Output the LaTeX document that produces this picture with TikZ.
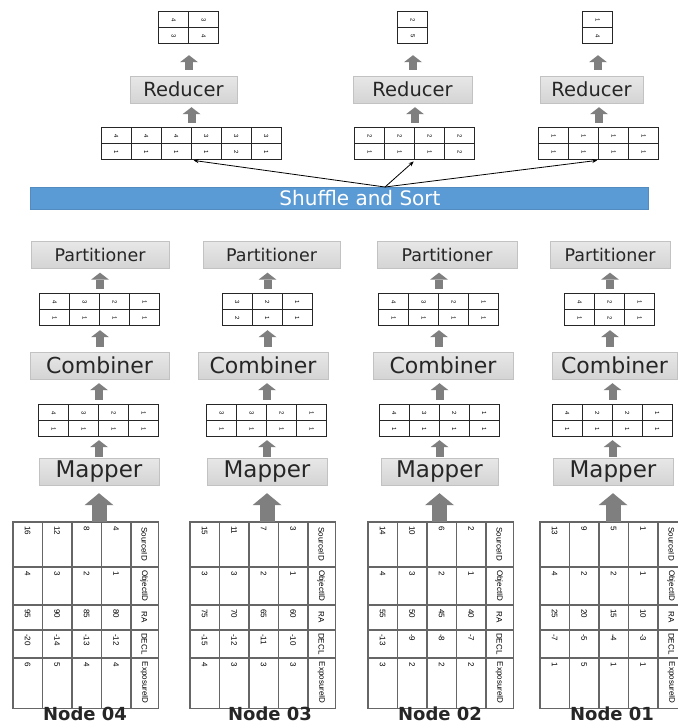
\documentclass[tikz,border=0pt]{standalone}
\usepackage{fontspec}
\setmainfont{DejaVu Sans}
\newfontfamily\cellfont{Liberation Sans}
\usepackage{graphicx}
\usetikzlibrary{arrows.meta,calc}

\definecolor{stagefill}{HTML}{D4D4D4}
\definecolor{stageedge}{HTML}{C2C2C2}
\definecolor{shufflebar}{HTML}{5B9BD5}
\definecolor{flowgray}{HTML}{7F7F7F}

\tikzset{
  stagebox/.style={draw=stageedge, top color=stagefill!55, bottom color=stagefill, minimum height=27pt, inner sep=0pt, text=black!85},
  partbox/.style={stagebox, font=\fontsize{17.5}{18}\selectfont},
  combbox/.style={stagebox, font=\fontsize{22}{22}\selectfont},
  mapbox/.style={stagebox, font=\fontsize{23}{23}\selectfont},
  redbox/.style={stagebox, font=\fontsize{19.5}{20}\selectfont},
  shufflebox/.style={fill=shufflebar, draw=shufflebar!90!black, minimum width=618pt, minimum height=22pt, inner sep=0pt},
  shuffletext/.style={text=white, inner sep=0pt, font=\fontsize{20}{20}\selectfont},
  kvframe/.style={inner sep=0pt, minimum height=32pt},
  kvcell/.style={draw=black!85, line width=0.7pt, minimum width=30pt, minimum height=16pt, inner sep=0pt, font=\cellfont\fontsize{6}{6}\selectfont},
  blockup/.style={draw=flowgray, line width=8pt, -{Triangle[width=18pt,length=7pt,line width=0pt]}, shorten <=5pt, shorten >=4pt},
  bigup/.style={draw=flowgray, line width=15pt, -{Triangle[width=29pt,length=12pt,line width=0pt]}, shorten >=8pt},
  fanarrow/.style={draw=black, line width=0.8pt, -{Stealth[length=5pt,width=4pt]}, shorten >=2pt},
  srcgrid/.style={draw=black!60, line width=1.4pt},
  srcval/.style={inner sep=0pt, anchor=north, font=\cellfont\fontsize{8}{8}\selectfont},
  srchead/.style={inner sep=0pt, font=\cellfont\fontsize{8}{8}\selectfont},
  nodelabel/.style={inner sep=0pt, font=\bfseries\fontsize{18}{18}\selectfont, text=black!85},
}

% name, centre x, top y, cells, key/value pairs
\newcommand{\kvtab}[5]{%
  \node[kvframe, minimum width=#4*30pt] (#1) at (#2,#3+16) {};
  \foreach \kk/\vv [count=\i] in {#5} {
    \node[kvcell] (#1-k\i) at ($(#1.north west)+(\i*30-15,8)$) {\rotatebox{-90}{\kk}};
    \node[kvcell] (#1-v\i) at ($(#1.north west)+(\i*30-15,24)$) {\rotatebox{-90}{\vv}};
  }
}

% name, left x, columns sid/oid/ra/decl/eid
\newcommand{\srctab}[3]{%
  \node[inner sep=0pt, minimum width=145pt, minimum height=186pt] (#1) at (#2+72.5,615) {};
  \draw[srcgrid] (#1.north west) rectangle (#1.south east);
  \foreach \gx in {29.5,59,88.5,118}
    \draw[srcgrid] ($(#1.north west)+(\gx,0)$) -- ($(#1.south west)+(\gx,0)$);
  \foreach \gy in {45,83,108,136}
    \draw[srcgrid] ($(#1.north west)+(0,\gy)$) -- ($(#1.north east)+(0,\gy)$);
  \foreach \sid/\oid/\rav/\dec/\eid [count=\i] in {#3} {
    \node[srcval] (#1-\i-s) at ($(#1.north west)+(\i*29.5-14.75,4)$) {\rotatebox{-90}{\sid}};
    \node[srcval] (#1-\i-o) at ($(#1.north west)+(\i*29.5-14.75,49)$) {\rotatebox{-90}{\oid}};
    \node[srcval] (#1-\i-r) at ($(#1.north west)+(\i*29.5-14.75,87)$) {\rotatebox{-90}{\rav}};
    \node[srcval] (#1-\i-d) at ($(#1.north west)+(\i*29.5-14.75,112)$) {\rotatebox{-90}{\dec}};
    \node[srcval] (#1-\i-e) at ($(#1.north west)+(\i*29.5-14.75,140)$) {\rotatebox{-90}{\eid}};
  }
  \foreach \hd/\hy [count=\j] in {SourceID/22.5,ObjectID/64,RA/95.5,DECL/122,ExposureID/161}
    \node[srchead] (#1-h\j) at ($(#1.north west)+(131.5,\hy)$) {\rotatebox{-90}{\hd}};
}

\begin{document}
\begin{tikzpicture}[x=1pt,y=-1pt]
\useasboundingbox (0,0) rectangle (678,724);
\clip (0,0) rectangle (678,724);
\fill[white] (0,0) rectangle (678,724);

% reduce side
\kvtab{rout1}{189}{12}{2}{4/3,3/4}
\kvtab{rout2}{413}{12}{1}{2/5}
\kvtab{rout3}{598}{12}{1}{1/4}
\node[redbox, minimum width=107pt] (red1) at (183.5,89.5) {Reducer};
\node[redbox, minimum width=119pt] (red2) at (412.5,89.5) {Reducer};
\node[redbox, minimum width=103pt] (red3) at (591.5,89.5) {Reducer};
\kvtab{rin1}{191.5}{128}{6}{4/1,4/1,4/1,3/1,3/2,3/1}
\kvtab{rin2}{415}{128}{4}{2/1,2/1,2/1,2/2}
\kvtab{rin3}{599}{128}{4}{1/1,1/1,1/1,1/1}
\foreach \r in {1,2,3} {
  \draw[blockup, shorten <=6pt, shorten >=11pt] (red\r.north -| rout\r.south) -- (rout\r.south);
  \draw[blockup] (rin\r.north) -- (rin\r.north |- red\r.south);
}

\node[shufflebox] (shuffle) at (339,198) {};
\node[shuffletext] (shufflelabel) at (360,198) {Shuffle and Sort};
\coordinate (hub) at (385,187);
\draw[fanarrow] (hub) -- (rin1-v3.south east);
\draw[fanarrow] (hub) -- (rin2-v2.south east);
\draw[fanarrow] (hub) -- (rin3-v2.south east);

% map side
\node[partbox, minimum width=138pt] (part1) at (100,255) {Partitioner};
\node[partbox, minimum width=137pt] (part2) at (271.5,255) {Partitioner};
\node[partbox, minimum width=140pt] (part3) at (447,255) {Partitioner};
\node[partbox, minimum width=120pt] (part4) at (610,255) {Partitioner};

\kvtab{cout1}{100}{294}{4}{4/1,3/1,2/1,1/1}
\kvtab{cout2}{267.5}{294}{3}{3/2,2/1,1/1}
\kvtab{cout3}{439}{294}{4}{4/1,3/1,2/1,1/1}
\kvtab{cout4}{610}{294}{3}{4/1,2/2,1/1}

\node[combbox, minimum width=139pt] (comb1) at (99.5,365.5) {Combiner};
\node[combbox, minimum width=130pt] (comb2) at (263,365.5) {Combiner};
\node[combbox, minimum width=140pt] (comb3) at (443,365.5) {Combiner};
\node[combbox, minimum width=125pt] (comb4) at (614.5,365.5) {Combiner};

\kvtab{mout1}{99}{405}{4}{4/1,3/1,2/1,1/1}
\kvtab{mout2}{267}{405}{4}{3/1,3/1,2/1,1/1}
\kvtab{mout3}{439.5}{405}{4}{4/1,3/1,2/1,1/1}
\kvtab{mout4}{612.5}{405}{4}{4/1,2/1,2/1,1/1}

\node[mapbox, minimum width=120pt] (map1) at (99,471.5) {Mapper};
\node[mapbox, minimum width=120pt] (map2) at (267,471.5) {Mapper};
\node[mapbox, minimum width=117pt] (map3) at (439.5,471.5) {Mapper};
\node[mapbox, minimum width=120pt] (map4) at (613,471.5) {Mapper};

\srctab{src1}{13}{16/4/95/-20/6,12/3/90/-14/5,8/2/85/-13/4,4/1/80/-12/4}
\srctab{src2}{190}{15/3/75/-15/4,11/3/70/-12/3,7/2/65/-11/3,3/1/60/-10/3}
\srctab{src3}{368}{14/4/55/-13/3,10/3/50/-9/2,6/2/45/-8/2,2/1/40/-7/2}
\srctab{src4}{540}{13/4/25/-7/1,9/2/20/-5/5,5/2/15/-4/1,1/1/10/-3/1}

\node[nodelabel] (lab1) at (85,714) {Node 04};
\node[nodelabel] (lab2) at (270,714) {Node 03};
\node[nodelabel] (lab3) at (440,714) {Node 02};
\node[nodelabel] (lab4) at (612,714) {Node 01};

\foreach \c in {1,...,4} {
  \draw[blockup] (cout\c.north) -- (cout\c.north |- part\c.south);
  \draw[blockup] (comb\c.north -| cout\c.south) -- (cout\c.south);
  \draw[blockup] (mout\c.north) -- (mout\c.north |- comb\c.south);
  \draw[blockup, shorten <=1pt, shorten >=3pt] (map\c.north -| mout\c.south) -- (mout\c.south);
  \draw[bigup] (src\c.north -| map\c.south) -- (map\c.south);
}
\end{tikzpicture}
\end{document}
